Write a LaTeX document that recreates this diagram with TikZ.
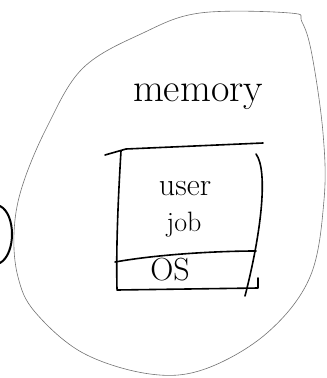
\documentclass[tikz,border=0pt]{standalone}
\begin{document}
\begin{tikzpicture}[x=1pt,y=-1pt,
  blob/.style={draw=black!55,line width=0.6pt},
  ink/.style={draw=black,line width=1.6pt,line cap=round,line join=round},
  hand/.style={inner sep=0pt,text=black}]
\useasboundingbox (0,0) rectangle (327,378);
% large blob outline
\draw[blob] plot[smooth cycle,tension=0.6] coordinates{
 (290,13) (200,13) (143,33) (83,68) (47,127) (22,187) (14,233) (18,277)
 (35,312) (83,353) (150,374) (205,369) (267,333) (310,277) (324,200)
 (323,133) (312,55) (302,22)};
% left bracket
\draw[ink,line width=2pt] (0,206) .. controls (16,214) and (16,254) .. (0,263);
% memory label
\node[hand,font=\fontsize{40}{40}\selectfont] (mem) at (198,97) {memory};
% box
\draw[ink] (105,155) -- (126,149) -- (263,143);
\draw[ink] (121,151) .. controls (118,200) and (116,250) .. (117,289);
\draw[ink] (256,154) .. controls (268,170) and (262,230) .. (245,296);
\draw[ink] (115,262) .. controls (160,254) and (220,251) .. (256,251);
\draw[ink] (117,290) -- (258,288) -- (258,278);
% labels
\node[hand,font=\fontsize{32}{32}\selectfont] (user) at (185,189) {user};
\node[hand,font=\fontsize{28}{28}\selectfont] (job) at (184,225) {job};
\node[hand,font=\fontsize{32}{32}\selectfont] (os) at (170,270) {OS};
\end{tikzpicture}
\end{document}
